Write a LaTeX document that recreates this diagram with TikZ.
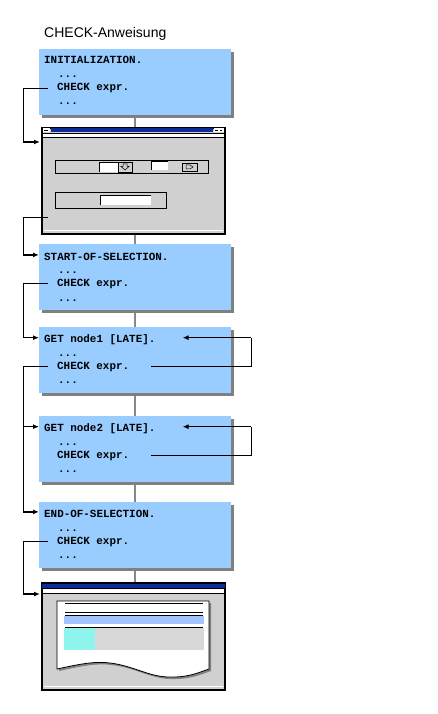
\documentclass[tikz,border=0pt]{standalone}
\usepackage{fontspec}
\setmainfont{Liberation Sans}
\setmonofont{Liberation Mono}
\usetikzlibrary{arrows.meta,shadows}
\definecolor{boxblue}{RGB}{153,204,255}
\definecolor{shadowgray}{RGB}{128,128,128}
\definecolor{conngray}{RGB}{136,136,136}
\definecolor{wingray}{RGB}{208,208,208}
\definecolor{titleblue}{RGB}{14,44,150}
\definecolor{listblue}{RGB}{164,196,255}
\definecolor{listcyan}{RGB}{142,244,236}
\definecolor{listgray}{RGB}{216,216,216}
\tikzset{
    box/.style={rectangle, fill=boxblue, minimum width=192pt, minimum height=66pt,
    	inner sep=0pt, drop shadow={shadow xshift=3pt, shadow yshift=-3pt,
    	fill=shadowgray, opacity=1}}
}
\tikzset{
    code/.style={anchor=base west, inner sep=0pt,
    	font=\ttfamily\bfseries\fontsize{10.9}{12}\selectfont}
}
\tikzset{
    win/.style={rectangle, draw, line width=1.2pt, fill=wingray,
    	minimum width=183pt, minimum height=106pt, inner sep=0pt}
}
\tikzset{
    conn/.style={draw=conngray, line width=2pt},
    flow/.style={line width=0.8pt},
    flowin/.style={line width=1.6pt, -{Latex[length=6pt,width=5pt]}}
}

\begin{document}
\begin{tikzpicture}[x=1pt, y=-1pt]
	\useasboundingbox (0,0) rectangle (437,714);
	\node (title) [anchor=base west, inner sep=0pt, font=\fontsize{14}{16}\selectfont]
		at (44,38) {CHECK-Anweisung};
	
	% gray links between the steps
	\coordinate (top1) at (135,115); \coordinate (bot1) at (135,128);
	\coordinate (top2) at (135,234); \coordinate (bot2) at (135,244);
	\draw[conn] (top1) -- (bot1); \draw[conn] (top2) -- (bot2);
	\draw[conn] (135,300) -- (135,330); \draw[conn] (135,390) -- (135,418);
	\draw[conn] (135,480) -- (135,505); \draw[conn] (135,565) -- (135,584);
	
	% steps
	\node (b1) [box] at (135,82) {};
	\node (w1) [win] at (133.5,181) {};
	\node (b2) [box] at (135,277) {};
	\node (b3) [box] at (135,360) {};
	\node (b4) [box] at (135,449) {};
	\node (b5) [box] at (135,535) {};
	\node (w2) [win] at (133.5,636.5) {};
	
	\node (h1) [code] at (44,64) {INITIALIZATION.};
	\node (d1) [code] at (58,78) {...};
	\node (c1) [code] at (57,91) {CHECK expr.};
	\node (e1) [code] at (58,105) {...};
	
	\node (h2) [code] at (44,260) {START-OF-SELECTION.};
	\node (d2) [code] at (58,273) {...};
	\node (c2) [code] at (57,286) {CHECK expr.};
	\node (e2) [code] at (58,301) {...};
	
	\node (h3) [code] at (44,342) {GET node1 [LATE].};
	\node (d3) [code] at (58,356) {...};
	\node (c3) [code] at (57,369) {CHECK expr.};
	\node (e3) [code] at (58,383) {...};
	
	\node (h4) [code] at (44,431) {GET node2 [LATE].};
	\node (d4) [code] at (58,445) {...};
	\node (c4) [code] at (57,458) {CHECK expr.};
	\node (e4) [code] at (58,472) {...};
	
	\node (h5) [code] at (44,517) {END-OF-SELECTION.};
	\node (d5) [code] at (58,531) {...};
	\node (c5) [code] at (57,544) {CHECK expr.};
	\node (e5) [code] at (58,558) {...};
	
	% selection screen
	\fill[titleblue] (51,128) rectangle (213,132.5);
	\fill[white] (43,128) rectangle (50,132.5); \draw[line width=0.6pt] (44,130) -- (48,130);
	\fill[white] (214,128) rectangle (224,132.5);
	\draw[line width=0.6pt] (215,130) -- (218,130); \draw[line width=0.6pt] (220,130) -- (222,130);
	\draw[fill=white, line width=0.6pt] (42.6,133) rectangle (224.4,137.5);
	\draw[line width=0.7pt] (55,160) rectangle (208,173);
	\fill[white] (99,162) rectangle (118,172);
	\draw[line width=0.6pt] (99,172) -- (99,162) -- (118,162);
	\draw[line width=0.7pt] (118,162) rectangle (132,172);
	\draw[line width=0.5pt] (123,164) -- (127,164) -- (127,166.5) -- (129,166.5) -- (125,170)
		-- (121,166.5) -- (123,166.5) -- cycle;
	\fill[white] (151,161) rectangle (168,170);
	\draw[line width=0.6pt] (151,170) -- (151,161) -- (168,161);
	\draw[line width=0.7pt] (182,163) rectangle (197,171);
	\draw[line width=0.5pt] (186,165) -- (190,165) -- (193,167) -- (190,169) -- (186,169) -- cycle;
	\draw[line width=0.7pt] (55,192) rectangle (166,208);
	\fill[white] (100,195) rectangle (151,205);
	\draw[line width=0.6pt] (100,205) -- (100,195) -- (151,195);
	\draw[white, line width=0.7pt] (44,230.5) -- (223,230.5);
	\draw[line width=1.2pt] (w1.north west) rectangle (w1.south east);
	
	% list output
	\fill[titleblue] (42,584) rectangle (225,588.5);
	\draw[fill=white, line width=0.6pt] (42.6,588.5) rectangle (224.4,593);
	\fill[shadowgray, shift={(2,2)}] (57,601) -- (209,601) -- (209,669)
		.. controls (200,672) and (190,677) .. (173,677)
		.. controls (150,678) and (135,666) .. (110,663)
		.. controls (95,661) and (80,664) .. (57,669) -- cycle;
	\draw[fill=white, line width=0.8pt] (57,601) -- (209,601) -- (209,669)
		.. controls (200,672) and (190,677) .. (173,677)
		.. controls (150,678) and (135,666) .. (110,663)
		.. controls (95,661) and (80,664) .. (57,669) -- cycle;
	\draw[line width=0.7pt] (65,603) -- (203,603);
	\draw[line width=0.7pt] (65,612) -- (203,612);
	\draw[line width=0.7pt] (65,615) -- (203,615);
	\fill[listblue] (64,616) rectangle (204,624);
	\draw[line width=0.7pt] (65,627) -- (203,627);
	\fill[listgray] (64,628) rectangle (204,650);
	\fill[listcyan] (64,628) rectangle (95,650);
	\draw[white, line width=0.7pt] (44,686.5) -- (223,686.5);
	\draw[line width=1.2pt] (w2.north west) rectangle (w2.south east);
	
	% CHECK jumps
	\coordinate (lx) at (23,0);
	\coordinate (rx) at (251,0);
	\coordinate (w1in) at (40,142);
	\coordinate (w1out) at (48,217);
	\coordinate (w2in) at (40,594);
	\coordinate (in2) at ([xshift=-5pt,yshift=1.5pt]h2.west);
	\coordinate (in3) at ([xshift=-5pt,yshift=1.5pt]h3.west);
	\coordinate (in4) at ([xshift=-5pt,yshift=1.5pt]h4.west);
	\coordinate (in5) at ([xshift=-5pt,yshift=1.5pt]h5.west);
	\coordinate (back3) at ([xshift=27pt,yshift=1.5pt]h3.east);
	\coordinate (back4) at ([xshift=27pt,yshift=1.5pt]h4.east);
	
	\draw[flow] ([xshift=-9pt]c1.west) -| (lx |- w1in); \draw[flowin] (lx |- w1in) -- (w1in);
	\draw[flow] (w1out) -| (lx |- in2); \draw[flowin] (lx |- in2) -- (in2);
	\draw[flow] ([xshift=-9pt]c2.west) -| (lx |- in3); \draw[flowin] (lx |- in3) -- (in3);
	\draw[flow] ([xshift=-9pt]c3.west) -| (lx |- in5);
	\draw[flowin] (lx |- in4) -- (in4); \draw[flowin] (lx |- in5) -- (in5);
	\draw[flow] ([xshift=-9pt]c5.west) -| (lx |- w2in); \draw[flowin] (lx |- w2in) -- (w2in);
	
	\draw[flow] ([xshift=22pt]c3.east) -| (rx |- back3); \draw[flowin] (rx |- back3) -- (back3);
	\draw[flow] ([xshift=22pt]c4.east) -| (rx |- back4); \draw[flowin] (rx |- back4) -- (back4);
\end{tikzpicture}
\end{document}
